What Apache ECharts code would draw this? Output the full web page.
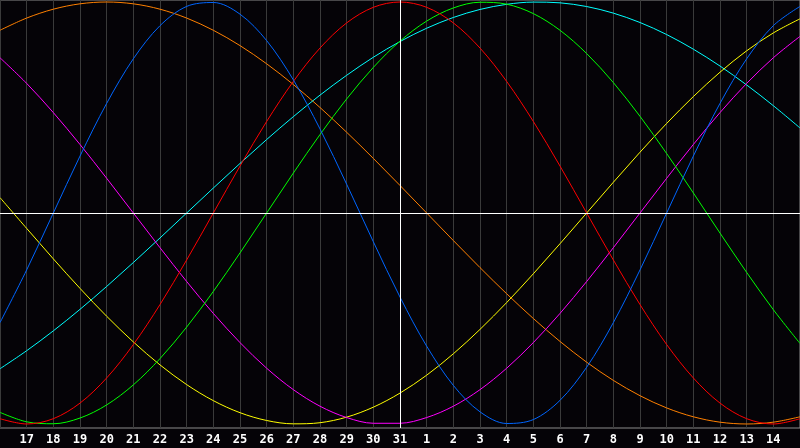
<!DOCTYPE html>
<html>
<head>
<meta charset="utf-8">
<script src="https://cdn.jsdelivr.net/npm/echarts@6/dist/echarts.min.js"></script>
<style>
html,body{margin:0;padding:0;background:#050307;}
#chart{width:800px;height:448px;}
</style>
</head>
<body>
<div id="chart"></div>
<script>
// x positions (day index) and their day-of-month tick labels
const dayIndex = [0,1,2,3,4,5,6,7,8,9,10,11,12,13,14,15,16,17,18,19,20,21,22,23,24,25,26,27,28,29,30];
const dayLabels = ['16','17','18','19','20','21','22','23','24','25','26','27','28','29','30','31','1','2','3','4','5','6','7','8','9','10','11','12','13','14','15'];

// cycle values in percent, one per day
const physical     = [-51.96,-26.98,0,26.98,51.96,73.08,88.79,97.91,99.77,94.23,81.70,63.11,39.84,13.62,-13.62,-39.84,-63.11,-81.70,-94.23,-99.77,-97.91,-88.79,-73.08,-51.96,-26.98,0,26.98,51.96,73.08,88.79,97.91];
const emotional    = [-97.49,-100,-97.49,-90.10,-78.18,-62.35,-43.39,-22.25,0,22.25,43.39,62.35,78.18,90.10,97.49,100,97.49,90.10,78.18,62.35,43.39,22.25,0,-22.25,-43.39,-62.35,-78.18,-90.10,-97.49,-100,-97.49];
const intellectual = [-94.50,-98.98,-99.89,-97.18,-90.96,-81.46,-69.01,-54.06,-37.17,-18.93,0,18.93,37.17,54.06,69.01,81.46,90.96,97.18,99.89,98.98,94.50,86.60,75.57,61.82,45.82,28.17,9.51,-9.51,-28.17,-45.82,-61.82];
const intuitive    = [73.57,61.42,47.59,32.47,16.46,0,-16.46,-32.47,-47.59,-61.42,-73.57,-83.72,-91.58,-96.94,-99.66,-99.66,-96.94,-91.58,-83.72,-73.57,-61.42,-47.59,-32.47,-16.46,0,16.46,32.47,47.59,61.42,73.57,83.72];
const aesthetic    = [7.30,-7.30,-21.74,-35.72,-48.94,-61.10,-71.99,-81.34,-88.94,-94.65,-98.34,-99.93,-99.40,-96.75,-92.03,-85.35,-76.87,-66.73,-55.17,-42.45,-28.81,-14.56,0,14.56,28.81,42.45,55.17,66.73,76.87,85.35,92.03];
const awareness    = [86.60,92.39,96.59,99.14,100,99.14,96.59,92.39,86.60,79.34,70.71,60.88,50.00,38.27,25.88,13.05,0,-13.05,-25.88,-38.27,-50.00,-60.88,-70.71,-79.34,-86.60,-92.39,-96.59,-99.14,-100,-99.14,-96.59];
const spiritual    = [-73.81,-65.27,-55.86,-45.66,-34.82,-23.48,-11.83,0,11.83,23.48,34.82,45.66,55.86,65.27,73.81,81.26,87.57,92.67,96.47,98.90,99.96,99.61,97.86,94.73,90.28,84.57,77.64,69.66,60.68,50.85,40.31];

const todayIndex = 15;

const seriesDefs = [
  {name:'Awareness', values: awareness, color:'#ff8000'},
  {name:'Spiritual', values: spiritual, color:'#00ffff'},
  {name:'Aesthetic', values: aesthetic, color:'#ffff00'},
  {name:'Intuitive', values: intuitive, color:'#ff00ff'},
  {name:'Intellectual', values: intellectual, color:'#00ff00'},
  {name:'Emotional', values: emotional, color:'#ff0000'},
  {name:'Physical', values: physical, color:'#0066ff'}
];

const chart = echarts.init(document.getElementById('chart'), null, {renderer:'canvas'});

const series = seriesDefs.map(s => ({
  name: s.name,
  type: 'line',
  data: dayIndex.map((d,i) => [d, s.values[i]]),
  smooth: 0.333,
  smoothConstraint: false,
  showSymbol: false,
  symbol: 'none',
  lineStyle: {color: s.color, width: 1},
  itemStyle: {color: s.color},
  silent: true,
  animation: false,
  z: 3
}));

series.push({
  type: 'line',
  data: [],
  silent: true,
  z: 5,
  markLine: {
    silent: true,
    symbol: ['none','none'],
    label: {show: false},
    lineStyle: {color: '#ffffff', width: 1, type: 'solid'},
    data: [{xAxis: todayIndex}, {yAxis: 0}],
    animation: false
  }
});

chart.setOption({
  backgroundColor: '#050307',
  animation: false,
  grid: {left: 0, top: 0, right: -1, bottom: 20, show: true, borderColor: '#8c8c8c', borderWidth: 1, backgroundColor: 'transparent'},
  xAxis: {
    type: 'value',
    min: 0,
    max: 30,
    interval: 1,
    axisLine: {show: true, lineStyle: {color: '#8c8c8c', width: 1}},
    axisTick: {show: false},
    splitLine: {show: true, lineStyle: {color: '#3a3a3a', width: 1}},
    axisLabel: {
      show: true,
      color: '#ffffff',
      fontFamily: 'DejaVu Sans Mono',
      fontWeight: 'bold',
      fontSize: 12,
      margin: 6,
      showMinLabel: false,
      showMaxLabel: false,
      formatter: v => dayLabels[v]
    }
  },
  yAxis: {
    type: 'value',
    min: -101.9,
    max: 100.95,
    axisLine: {show: false},
    axisTick: {show: false},
    axisLabel: {show: false},
    splitLine: {show: false}
  },
  series: series
});
</script>
</body>
</html>
